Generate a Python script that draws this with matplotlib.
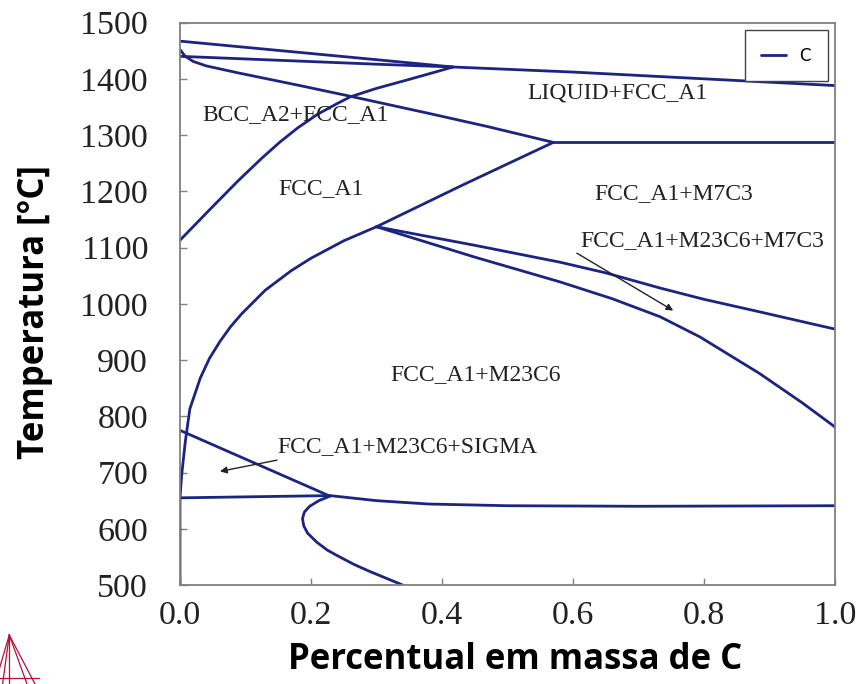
import matplotlib
matplotlib.use("Agg")
import matplotlib.pyplot as plt
from matplotlib.lines import Line2D

# phase boundaries (wt% C, temperature in C)
liq_x = [0.0, 0.1, 0.2, 0.3, 0.417, 0.6, 0.8, 1.0]
liq_t = [1467, 1456, 1445, 1434, 1421, 1412, 1400, 1388]

bcc_sol_x = [0.0, 0.15, 0.3, 0.417]
bcc_sol_t = [1440, 1433, 1426, 1421]

fcc_sol_x = [0.0, 0.008, 0.02, 0.04, 0.087, 0.183, 0.26, 0.382, 0.47, 0.57]
fcc_sol_t = [1452, 1440, 1431, 1423, 1411, 1388, 1369, 1338, 1315, 1287]

m7c3_liq_x = [0.57, 1.0]
m7c3_liq_t = [1287, 1287]

bcc_fcc_x = [0.0, 0.045, 0.089, 0.125, 0.153, 0.18, 0.21, 0.24, 0.26, 0.3, 0.35, 0.417]
bcc_fcc_t = [1113, 1167, 1219, 1259, 1288, 1313, 1337, 1356, 1368, 1383, 1399, 1421]

m7c3_x = [0.30, 0.433, 0.57]
m7c3_t = [1137, 1212, 1287]

m23_x = [0.0, 0.0, 0.0025, 0.008, 0.015, 0.031, 0.045, 0.061, 0.077, 0.094,
         0.13, 0.17, 0.2, 0.25, 0.30]
m23_t = [500, 655, 695, 754, 813, 868, 903, 933, 959, 982,
         1024, 1059, 1081, 1112, 1137]

m7c3_upper_x = [0.30, 0.45, 0.58, 0.65, 0.733, 0.8, 0.88, 1.0]
m7c3_upper_t = [1137, 1104, 1074, 1055, 1028, 1008, 987, 955]

m7c3_lower_x = [0.30, 0.4, 0.45, 0.58, 0.66, 0.733, 0.794, 0.885, 0.95, 1.0]
m7c3_lower_t = [1137, 1101, 1083, 1039, 1009, 977, 941, 876, 824, 781]

sigma_x = [0.0, 0.229]
sigma_t = [775, 658]

eut_x = [0.0, 0.229, 0.3, 0.38, 0.5, 0.7, 1.0]
eut_t = [655, 659, 650, 644, 641, 640, 641]

nose_x = [0.229, 0.212, 0.198, 0.19, 0.187, 0.189, 0.195, 0.209, 0.225, 0.239,
          0.265, 0.29, 0.34]
nose_t = [658, 650, 640, 630, 618, 605, 592, 576, 562, 553, 537, 524, 500]

curves = [
    (liq_x, liq_t), (bcc_sol_x, bcc_sol_t), (fcc_sol_x, fcc_sol_t),
    (m7c3_liq_x, m7c3_liq_t), (bcc_fcc_x, bcc_fcc_t), (m7c3_x, m7c3_t),
    (m23_x, m23_t), (m7c3_upper_x, m7c3_upper_t), (m7c3_lower_x, m7c3_lower_t),
    (sigma_x, sigma_t), (eut_x, eut_t), (nose_x, nose_t),
]

# region labels: text, x, T
labels = [
    ("BCC_A2+FCC_A1", 0.177, 1337),
    ("LIQUID+FCC_A1", 0.668, 1374),
    ("FCC_A1", 0.215, 1205),
    ("FCC_A1+M7C3", 0.754, 1196),
    ("FCC_A1+M23C6+M7C3", 0.797, 1113),
    ("FCC_A1+M23C6", 0.452, 875),
    ("FCC_A1+M23C6+SIGMA", 0.347, 747),
]
# arrows: start (x, T), tip (x, T)
arrows = [
    ((0.606, 1090), (0.753, 988)),
    ((0.148, 722), (0.061, 702)),
]

x_ticks = [0.0, 0.2, 0.4, 0.6, 0.8, 1.0]
y_ticks = [500, 600, 700, 800, 900, 1000, 1100, 1200, 1300, 1400, 1500]

LINE = "#1c2482"
SERIF = "Liberation Serif"

fig = plt.figure(figsize=(8.6, 6.84), dpi=100)
ax = fig.add_axes([0.2093, 0.1447, 0.7616, 0.8223])

for i, (cx, ct) in enumerate(curves):
    ax.plot(cx, ct, color=LINE, lw=2.0, label="C" if i == 0 else None,
            solid_joinstyle="round", solid_capstyle="round")

for txt, lx, lt in labels:
    ax.text(lx, lt, txt, ha="center", va="center", fontsize=17,
            family=SERIF, color="#222222")

for (sx, st), (ex, et) in arrows:
    ax.annotate("", xy=(ex, et), xytext=(sx, st),
                arrowprops=dict(arrowstyle="-|>", color="#222222", lw=1.0,
                                mutation_scale=10, shrinkA=0, shrinkB=0))

ax.set_xlim(0, 1.0)
ax.set_ylim(500, 1500)
ax.set_xticks(x_ticks)
ax.set_xticklabels([f"{v:.1f}" for v in x_ticks])
ax.set_yticks(y_ticks)
ax.set_yticklabels([str(v) for v in y_ticks])
for lab in ax.get_xticklabels() + ax.get_yticklabels():
    lab.set_family(SERIF)
    lab.set_fontsize(24.5)
    lab.set_color("#222222")
ax.tick_params(direction="in", length=5, width=1, color="#808080")
ax.tick_params(axis="x", pad=11)
ax.tick_params(axis="y", pad=23)
for sp in ax.spines.values():
    sp.set_color("#808080")
    sp.set_linewidth(1.3)

ax.set_xlabel("Percentual em massa de C", family="Open Sans", fontweight="bold",
              fontsize=25, va="center")
ax.xaxis.set_label_coords(0.511, -0.133)
ax.set_ylabel("Temperatura [°C]", family="Open Sans", fontweight="bold",
              fontsize=25, va="center")
ax.yaxis.set_label_coords(-0.221, 0.485)

leg = ax.legend(loc="upper right", bbox_to_anchor=(0.989, 0.987), borderaxespad=0,
                fancybox=False, framealpha=1, edgecolor="#444444",
                prop={"family": "DejaVu Sans", "size": 12},
                handlelength=1.5, handletextpad=0.8, borderpad=1.0)
leg.get_frame().set_linewidth(1.0)

# corner logo
logo = "#b5103c"
apex = (0.0108, 0.0716)
for bx in [-0.006, 0.003, 0.0108, 0.0314, 0.0407]:
    fig.add_artist(Line2D([apex[0], bx], [apex[1], 0.0], color=logo, lw=0.9,
                          transform=fig.transFigure))
fig.add_artist(Line2D([0.0, 0.045], [0.009, 0.009], color=logo, lw=0.9,
                      transform=fig.transFigure))

fig.savefig("out.png", dpi=100)
